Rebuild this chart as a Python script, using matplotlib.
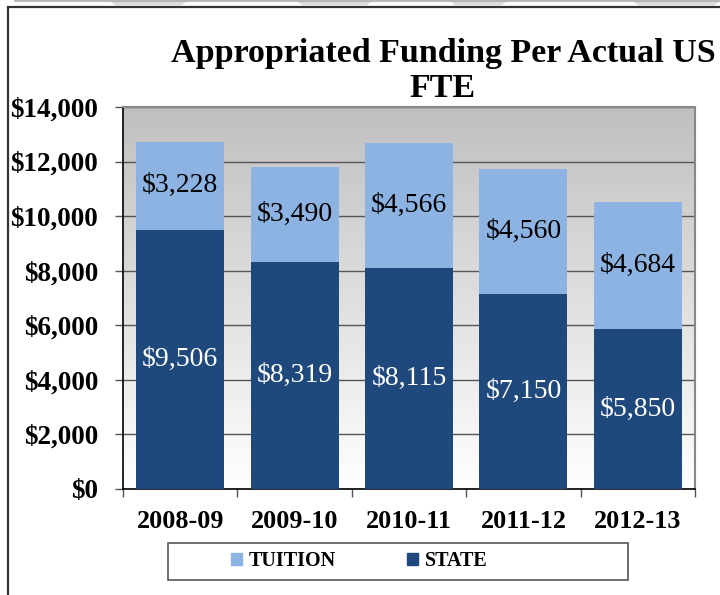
import numpy as np
import matplotlib
matplotlib.use("Agg")
import matplotlib.pyplot as plt
from matplotlib.patches import Patch, Rectangle, Polygon

years = ["2008-09", "2009-10", "2010-11", "2011-12", "2012-13"]
state = [9506, 8319, 8115, 7150, 5850]
tuition = [3228, 3490, 4566, 4560, 4684]
yticks = [0, 2000, 4000, 6000, 8000, 10000, 12000, 14000]

C_TUI = "#8db3e2"; C_STA = "#1f497d"
plt.rcParams["font.family"] = ["Liberation Serif", "DejaVu Serif"]

W, H = 720, 595
fig = plt.figure(figsize=(7.2, 5.95), dpi=100)
ax = fig.add_axes([123/W, 1-489/H, 572/W, 382/H])

# gradient plot-area background
grad = np.linspace(1, 0, 256)[:, None]
ax.imshow(grad, cmap=matplotlib.colors.LinearSegmentedColormap.from_list("g", ["#ffffff", "#bfbfbf"]),
          extent=[-0.5, 4.5, 0, 14000], aspect="auto", zorder=0, vmin=0, vmax=1)

x = np.arange(len(years))
ax.bar(x, state, 0.77, color=C_STA, zorder=3)
ax.bar(x, tuition, 0.77, bottom=state, color=C_TUI, zorder=3)
for i in range(len(years)):
    ax.text(x[i], state[i]/2, f"${state[i]:,}", ha="center", va="center", color="white", fontsize=20, zorder=4)
    ax.text(x[i], state[i]+tuition[i]/2, f"${tuition[i]:,}", ha="center", va="center", color="black", fontsize=20, zorder=4)

ax.set_xlim(-0.5, 4.5); ax.set_ylim(0, 14000)
ax.set_yticks(yticks)
ax.set_yticklabels([f"${v:,}" for v in yticks], fontsize=19.5, fontweight="bold")
ax.yaxis.grid(True, color="#555555", lw=1, zorder=1)
ax.tick_params(axis="y", length=6, width=1, color="#555555", pad=12)
ax.set_xticks(np.arange(-0.5, 5, 1))
ax.set_xticklabels([])
ax.set_xticks(x, minor=True)
ax.set_xticklabels(years, minor=True, fontsize=18.8, fontweight="bold")
ax.tick_params(axis="x", which="major", length=6, width=1, color="#555555")
ax.tick_params(axis="x", which="minor", length=0, pad=15)
for s in ["top", "right"]:
    ax.spines[s].set_color("#888888"); ax.spines[s].set_linewidth(1.5)
for s in ["left", "bottom"]:
    ax.spines[s].set_color("black"); ax.spines[s].set_linewidth(1.2)
ax.set_axisbelow(True)

fig.text(443/W, 1-71/H, "Appropriated Funding Per Actual US\nFTE", ha="center", va="center",
         fontsize=24.5, fontweight="bold", linespacing=1.15)

# legend: separate box, entries placed inside
fig.add_artist(Rectangle((168/W, 1-580/H), 460/W, 37/H, transform=fig.transFigure,
                         fill=True, facecolor="white", edgecolor="#555555", lw=1.2))
handles = [Patch(color=C_TUI, label="TUITION"), Patch(color=C_STA, label="STATE")]
leg = fig.legend(handles=handles, loc="center left", bbox_to_anchor=(231/W, 1-561/H), ncol=2,
                 prop={"size": 14.5, "weight": "bold"}, frameon=False,
                 handlelength=0.55, handleheight=0.55, handletextpad=0.35, columnspacing=3.5,
                 borderpad=0, borderaxespad=0)

# outer chart border and top decoration
fig.add_artist(Rectangle((7.5/W, -0.02), 1, 1-6.5/H+0.02, transform=fig.transFigure,
                         fill=False, edgecolor="#333333", lw=1.6))
fig.add_artist(plt.Line2D([15/W, 1], [1-0.5/H, 1-0.5/H], transform=fig.transFigure, color="#aaaaaa", lw=1.2))
for a, b in [(110, 187), (297, 372), (450, 507), (633, 720)]:
    fig.add_artist(Polygon([(a/W, 1-1/H), (b/W, 1-1/H), ((b-6)/W, 1-6/H), ((a+6)/W, 1-6/H)],
                           closed=True, transform=fig.transFigure, facecolor="#dddddd", edgecolor="none"))

fig.savefig("out.png", dpi=100)
